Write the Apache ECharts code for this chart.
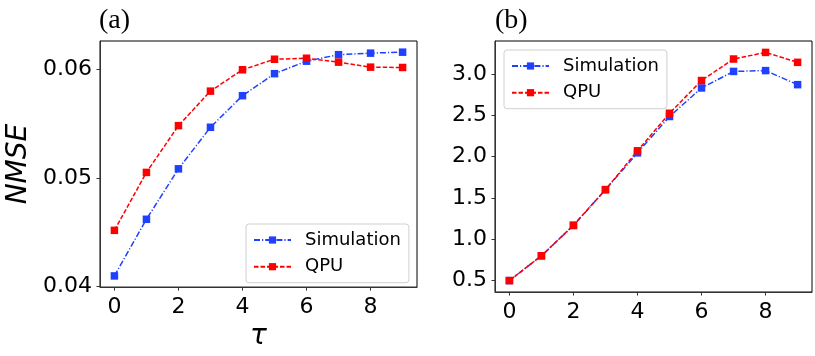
<!DOCTYPE html>
<html>
<head>
<meta charset="utf-8">
<script src="https://cdn.jsdelivr.net/npm/echarts@6/dist/echarts.min.js"></script>
<style>
  html, body { margin: 0; padding: 0; background: #fff; }
  #main { width: 815px; height: 356px; }
</style>
</head>
<body>
<div id="main"></div>
<script>
// tau on the x axis, same for both panels
var tau = [0, 1, 2, 3, 4, 5, 6, 7, 8, 9];

// panel (a): NMSE
var simA = [0.04096, 0.04618, 0.05083, 0.05466, 0.05757, 0.0596, 0.06075, 0.06135, 0.06149, 0.06158];
var qpuA = [0.04516, 0.0505, 0.05481, 0.05799, 0.05996, 0.06093, 0.06102, 0.06066, 0.0602, 0.06017];

// panel (b)
var simB = [0.5, 0.8, 1.166, 1.6, 2.045, 2.485, 2.83, 3.03, 3.04, 2.87];
var qpuB = [0.5, 0.8, 1.17, 1.6, 2.07, 2.524, 2.92, 3.18, 3.26, 3.14];

var xTicks = [0, 2, 4, 6, 8];
var yTicksA = [0.04, 0.05, 0.06];
var yTicksB = [0.5, 1.0, 1.5, 2.0, 2.5, 3.0];

var BLUE = '#2040ff';
var RED = '#ff0000';
var FONT = 'DejaVu Sans';

function pairs(ys) {
  return tau.map(function (t, i) { return [t, ys[i]]; });
}

function xAxis(idx, withName) {
  return {
    type: 'value',
    gridIndex: idx,
    min: -0.45,
    max: 9.45,
    name: withName ? 'τ' : '',
    nameLocation: 'middle',
    nameGap: 34,
    nameTextStyle: { fontFamily: FONT, fontStyle: 'italic', fontSize: 28, color: '#000' },
    axisLine: { onZero: false, lineStyle: { color: '#333', width: 1 } },
    axisTick: { show: true, inside: false, length: 3.5, customValues: xTicks, lineStyle: { color: '#333' } },
    axisLabel: { customValues: xTicks, margin: 9, fontFamily: FONT, fontSize: 22, color: '#000' },
    splitLine: { show: false }
  };
}

function yAxis(idx, min, max, ticks, digits, withName) {
  return {
    type: 'value',
    gridIndex: idx,
    min: min,
    max: max,
    name: withName ? 'NMSE' : '',
    nameLocation: 'middle',
    nameGap: 67,
    nameTextStyle: { fontFamily: FONT, fontStyle: 'italic', fontSize: 28, color: '#000' },
    axisLine: { onZero: false, lineStyle: { color: '#333', width: 1 } },
    axisTick: { show: true, inside: false, length: 3.5, customValues: ticks, lineStyle: { color: '#333' } },
    axisLabel: {
      customValues: ticks, margin: 8, fontFamily: FONT, fontSize: 22, color: '#000',
      formatter: function (v) { return v.toFixed(digits); }
    },
    splitLine: { show: false }
  };
}

function lineSeries(name, color, dash, idx, ys) {
  return {
    name: name,
    type: 'line',
    xAxisIndex: idx,
    yAxisIndex: idx,
    data: pairs(ys),
    symbol: 'rect',
    symbolSize: 7.5,
    showSymbol: true,
    animation: false,
    color: color,
    itemStyle: { color: color },
    lineStyle: { color: color, width: 1.5, type: dash }
  };
}

function legend(left, top) {
  return {
    orient: 'vertical',
    left: left,
    top: top,
    data: ['Simulation', 'QPU'],
    itemWidth: 37,
    itemHeight: 9,
    itemGap: 6.7,
    padding: [6, 8, 6, 7],
    backgroundColor: '#fff',
    borderColor: '#d0d0d0',
    borderWidth: 1,
    borderRadius: 3,
    selectedMode: false,
    textStyle: { fontFamily: FONT, fontSize: 18, color: '#000', lineHeight: 20, padding: [0, 0, 0, 9] }
  };
}

var DASH_SIM = [6, 2, 1.2, 2];
var DASH_QPU = [4.5, 2];

var chart = echarts.init(document.getElementById('main'), null, { renderer: 'canvas' });
chart.setOption({
  backgroundColor: '#fff',
  animation: false,
  title: [
    { text: '(a)', left: 99, top: 7, padding: 0, textStyle: { fontFamily: 'Liberation Serif', fontSize: 28, fontWeight: 'normal', color: '#000' } },
    { text: '(b)', left: 495, top: 7, padding: 0, textStyle: { fontFamily: 'Liberation Serif', fontSize: 28, fontWeight: 'normal', color: '#000' } }
  ],
  grid: [
    { left: 100, top: 41, width: 317, height: 251, show: true, borderColor: '#000', borderWidth: 1, backgroundColor: 'transparent' },
    { left: 495, top: 41, width: 317, height: 251, show: true, borderColor: '#000', borderWidth: 1, backgroundColor: 'transparent' }
  ],
  xAxis: [xAxis(0, true), xAxis(1, false)],
  yAxis: [
    yAxis(0, 0.03993, 0.06261, yTicksA, 2, true),
    yAxis(1, 0.362, 3.398, yTicksB, 1, false)
  ],
  legend: [legend(246, 224), legend(504, 50)],
  series: [
    lineSeries('Simulation', BLUE, DASH_SIM, 0, simA),
    lineSeries('QPU', RED, DASH_QPU, 0, qpuA),
    lineSeries('Simulation', BLUE, DASH_SIM, 1, simB),
    lineSeries('QPU', RED, DASH_QPU, 1, qpuB)
  ]
});
</script>
</body>
</html>
